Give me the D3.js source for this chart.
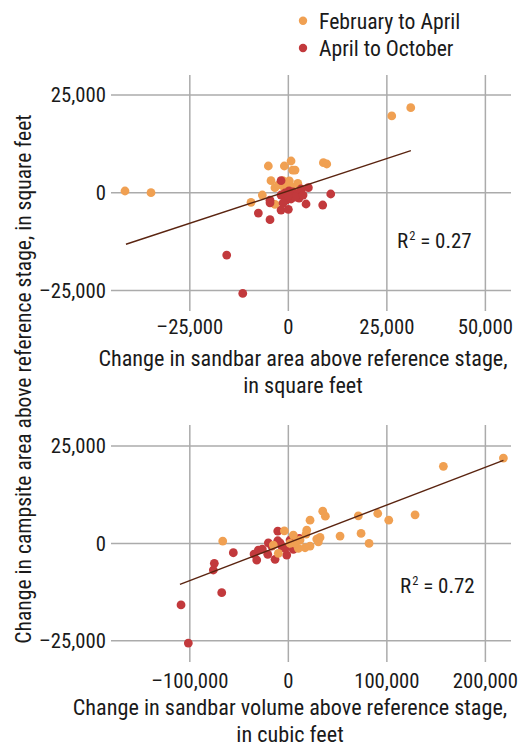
<!DOCTYPE html>
<html>
<head>
<meta charset="utf-8">
<script src="https://cdn.jsdelivr.net/npm/d3@7"></script>
<style>
  html, body { margin: 0; padding: 0; background: #fff; }
  svg { display: block; }
  text { font-family: "Liberation Sans Narrow", "Roboto Condensed", "DejaVu Sans Condensed", sans-serif; fill: #1a1a1a; }
</style>
</head>
<body>
<svg id="chart" width="518" height="749"></svg>
<script>
// Sandbar area change vs campsite area change (square feet)
const areaFebApr = [
  [-41450, 435], [-34850, 0], [26240, 19630], [31060, 21750], [-5080, 6830],
  [-1020, 6830], [690, 8110], [1100, 5800], [1700, 5800], [8890, 7680],
  [9750, 7340], [-4400, 3070], [-1400, 3070], [250, 3000], [2400, 2400],
  [-3400, 1280], [-6600, -590], [-9470, -2460], [-3380, -2970], [-2500, 2000],
  [800, 1500], [-1000, 1200], [3000, 1000], [-200, 2300]
];
const areaAprOct = [
  [-1850, 3070], [5080, 1280], [10760, -330], [8720, -3150], [4490, -2890],
  [-4650, -1900], [-4650, -2600], [-7610, -5200], [-4650, -6900], [-1850, -4430],
  [0, -4250], [-15640, -15940], [-11570, -25750], [-1850, -590], [-840, -80],
  [180, 440], [1190, 180], [2210, -330], [3220, 950], [2720, -1360],
  [690, -1610], [-580, -1870], [-1350, -2640], [1700, -1100], [-80, -840],
  [3730, -590]
];

// Sandbar volume change (cubic feet) vs campsite area change (square feet)
const volumeFebApr = [
  [218270, 21900], [157360, 19780], [34920, 8270], [37560, 6990], [22030, 5960],
  [71060, 7070], [90760, 7670], [101930, 5960], [128630, 7330], [52490, 1870],
  [73810, 2560], [81930, 0], [-66600, 590], [-4060, 3220], [18680, 3400],
  [17970, 2380], [5080, 2120], [32180, 1540], [28830, 1100], [-15230, -440],
  [-10150, -2560], [1730, 0], [10150, -1280], [16950, -1120], [22030, -690],
  [30460, 410], [11880, 840], [6800, 0]
];
const volumeAprOct = [
  [-108930, -15790], [-101520, -25590], [-67610, -12640], [-75120, -5120],
  [-76140, -6830], [-55840, -2400], [-34820, -2740], [-32080, -4270],
  [-30460, -1710], [-26400, -1460], [-20300, 150], [-20910, -2810],
  [-13500, -4090], [-10760, 3150], [-10760, 670], [-6700, -690],
  [-1620, -2990], [5080, -1540], [1730, 840], [-3350, -1280],
  [11170, 1280], [-16850, -690], [-8430, 150]
];

// Least-squares trend lines: [slope, intercept, xStart, xEnd]
const areaFit = [0.331, 450, -41200, 31100];
const volumeFit = [0.0969, 164, -110000, 218300];
const areaR2 = "0.27";
const volumeR2 = "0.72";

// Axis ticks
const yTicks = [-25000, 0, 25000];
const areaXTicks = [-25000, 0, 25000, 50000];
const volumeXTicks = [-100000, 0, 100000, 200000];

const seriesNames = ["February to April", "April to October"];
const seriesColors = ["#f0a052", "#c2393c"];

const svg = d3.select("#chart");
const fmt = v => (v < 0 ? "\u2013" : "") + d3.format(",")(Math.abs(v));

function panel(cfg) {
  const x = d3.scaleLinear().domain(cfg.xDomain).range([111, 511]);
  const y = d3.scaleLinear().domain(cfg.yDomain).range([cfg.bottom, cfg.top]);
  const g = svg.append("g");

  // grid
  g.append("g").selectAll("line").data(cfg.xTicks).join("line")
    .attr("x1", d => x(d)).attr("x2", d => x(d))
    .attr("y1", cfg.top).attr("y2", cfg.bottom)
    .attr("stroke", "#ababab").attr("stroke-width", 1.5);
  g.append("g").selectAll("line").data(yTicks).join("line")
    .attr("x1", 111).attr("x2", 511)
    .attr("y1", d => y(d)).attr("y2", d => y(d))
    .attr("stroke", "#ababab").attr("stroke-width", 1.5);

  // tick labels
  g.append("g").selectAll("text").data(yTicks).join("text")
    .attr("x", 106).attr("y", d => y(d)).attr("dy", "0.36em")
    .attr("text-anchor", "end").attr("font-size", 20.7)
    .text(fmt);
  g.append("g").selectAll("text").data(cfg.xTicks).join("text")
    .attr("x", d => x(d)).attr("y", cfg.tickBase)
    .attr("text-anchor", "middle").attr("font-size", 20.7)
    .text(fmt);

  // points
  const drawSeries = (data, color) => g.append("g").selectAll("circle").data(data).join("circle")
    .attr("cx", d => x(d[0])).attr("cy", d => y(d[1])).attr("r", 4.4)
    .attr("fill", color);
  cfg.order.forEach(i => drawSeries(cfg.series[i], seriesColors[i]));

  // trend line
  const [m, b, x0, x1] = cfg.fit;
  g.append("line")
    .attr("x1", x(x0)).attr("y1", y(m * x0 + b))
    .attr("x2", x(x1)).attr("y2", y(m * x1 + b))
    .attr("stroke", "#5a2410").attr("stroke-width", 1.4);

  // R-squared
  const r = g.append("text").attr("x", cfg.r2x).attr("y", cfg.r2y).attr("font-size", 21);
  r.append("tspan").text("R");
  r.append("tspan").attr("font-size", 12.5).attr("dy", -8).attr("dx", 1).text("2");
  r.append("tspan").attr("dy", 8).text(" = " + cfg.r2);

  // x-axis title
  const t = g.append("text").attr("text-anchor", "middle").attr("font-size", 22.2);
  t.append("tspan").attr("x", cfg.titleX).attr("y", cfg.titleY).text(cfg.title[0]);
  t.append("tspan").attr("x", cfg.titleX).attr("y", cfg.titleY + 27).text(cfg.title[1]);
}

panel({
  xDomain: [-45000, 56500], yDomain: [-30250, 30100], top: 75, bottom: 311,
  xTicks: areaXTicks, tickBase: 334, series: [areaFebApr, areaAprOct], order: [0, 1],
  fit: areaFit, r2: areaR2, r2x: 397, r2y: 248,
  title: ["Change in sandbar area above reference stage,", "in square feet"], titleX: 303, titleY: 366
});
panel({
  xDomain: [-180000, 226000], yDomain: [-30440, 30380], top: 425, bottom: 662,
  xTicks: volumeXTicks, tickBase: 688, series: [volumeFebApr, volumeAprOct], order: [1, 0],
  fit: volumeFit, r2: volumeR2, r2x: 400, r2y: 593,
  title: ["Change in sandbar volume above reference stage,", "in cubic feet"], titleX: 290, titleY: 715
});

// shared y-axis title
svg.append("text")
  .attr("transform", "translate(31,379) rotate(-90)")
  .attr("text-anchor", "middle").attr("font-size", 21.6)
  .text("Change in campsite area above reference stage, in square feet");

// legend
const leg = svg.append("g").selectAll("g").data(seriesNames).join("g")
  .attr("transform", (d, i) => `translate(303,${20.7 + i * 27.3})`);
leg.append("circle").attr("r", 4.2).attr("fill", (d, i) => seriesColors[i]);
leg.append("text").attr("x", 16).attr("dy", "0.36em").attr("font-size", 21.7).text(d => d);
</script>
</body>
</html>
